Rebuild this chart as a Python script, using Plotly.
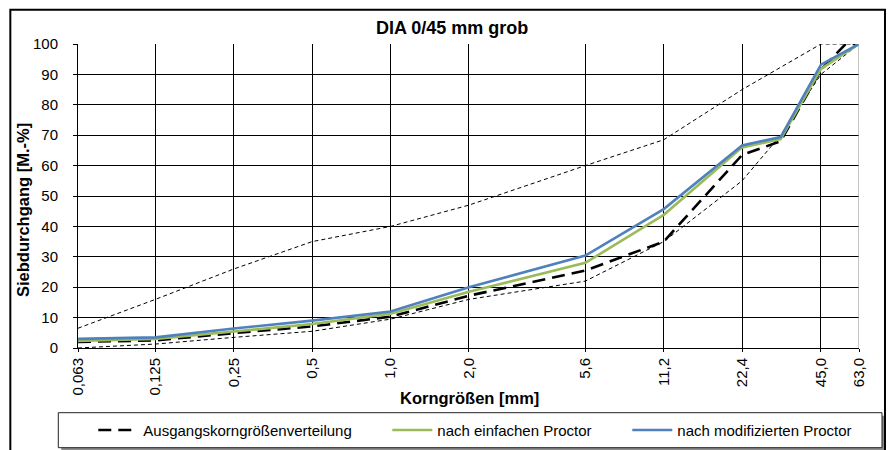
import plotly.graph_objects as go

# Sieve sizes [mm]
sieve = [0.063, 0.125, 0.25, 0.5, 1.0, 2.0, 5.6, 11.2, 22.4, 31.5, 45.0, 56.0, 63.0]
sieve_std = [0.063, 0.125, 0.25, 0.5, 1.0, 2.0, 5.6, 11.2, 22.4, 31.5, 45.0, 63.0]
sieve_upper = [0.063, 0.125, 0.25, 0.5, 1.0, 2.0, 5.6, 11.2, 22.4, 45.0, 63.0]

# Passing [M.-%]
ausgang = [2.0, 2.5, 4.9, 7.1, 10.3, 17.2, 25.5, 35.0, 63.5, 68.0, 91.5, 100.0, 100.0]
einfach = [2.3, 3.0, 5.4, 7.9, 11.3, 18.5, 28.0, 43.8, 66.0, 68.7, 91.8, 100.0]
modifiziert = [3.0, 3.5, 6.4, 9.0, 12.0, 20.0, 30.4, 45.7, 66.6, 69.4, 93.2, 100.0]

# Grading envelope
upper_bound = [6.5, 16.0, 26.0, 35.0, 40.0, 47.0, 60.0, 68.5, 85.0, 100.0, 100.0]
lower_bound = [0.0, 1.3, 3.5, 5.5, 9.5, 16.0, 22.0, 35.0, 55.0, 70.0, 90.0, 100.0]

tick_vals = [0.063, 0.125, 0.25, 0.5, 1.0, 2.0, 5.6, 11.2, 22.4, 45.0, 63.0]
tick_text = ["0,063", "0,125", "0,25", "0,5", "1,0", "2,0", "5,6", "11,2", "22,4", "45,0", "63,0"]

FONT = "Liberation Sans, Arial, sans-serif"
W, H = 896, 450
L, R, T, B = 77.7, 859.0, 44.3, 348.3


def px(x):
    return (x - L) / (R - L)


def py(y):
    return (B - y) / (B - T)


fig = go.Figure()

fig.add_trace(go.Scatter(x=sieve_upper, y=upper_bound, mode="lines", showlegend=False,
                         line=dict(color="black", width=1, dash="4px,3px")))
fig.add_trace(go.Scatter(x=sieve_std, y=lower_bound, mode="lines", showlegend=False,
                         line=dict(color="black", width=1, dash="4px,3px")))
fig.add_trace(go.Scatter(x=sieve, y=ausgang, mode="lines", name="Ausgangskorngrößenverteilung",
                         legendwidth=239,
                         line=dict(color="black", width=2.6, dash="13px,7px")))
fig.add_trace(go.Scatter(x=sieve_std, y=einfach, mode="lines", name="nach einfachen Proctor",
                         legendwidth=185,
                         line=dict(color="#9BBB59", width=2.6)))
fig.add_trace(go.Scatter(x=sieve_std, y=modifiziert, mode="lines", name="nach modifizierten Proctor",
                         line=dict(color="#4F81BD", width=2.6)))

shapes = [
    # outer chart frame
    dict(type="rect", xref="paper", yref="paper",
         x0=px(10), x1=px(885), y0=py(470), y1=py(10),
         line=dict(color="black", width=2), fillcolor="rgba(0,0,0,0)", layer="above"),
    # legend shadow and box
    dict(type="rect", xref="paper", yref="paper",
         x0=px(61), x1=px(886), y0=py(451), y1=py(416),
         line=dict(width=0), fillcolor="#8c8c8c", layer="below"),
    dict(type="rect", xref="paper", yref="paper",
         x0=px(58), x1=px(882), y0=py(448), y1=py(413),
         line=dict(color="#222", width=1), fillcolor="white", layer="below"),
    # right edge of plot area
    dict(type="line", xref="x", yref="paper", x0=63, x1=63, y0=0, y1=1,
         line=dict(color="#a0a0a0", width=1.2), layer="above"),
]

fig.update_layout(
    width=W, height=H,
    margin=dict(l=L, r=W - R, t=T, b=H - B, pad=0, autoexpand=False),
    paper_bgcolor="white", plot_bgcolor="white",
    font=dict(family=FONT, color="black", size=15),
    title=dict(text="DIA 0/45 mm grob", x=px(452), xref="paper", xanchor="center",
               y=1 - 28 / H, yref="container", yanchor="middle",
               font=dict(family=FONT, size=18, weight=700, color="black")),
    xaxis=dict(type="log", range=[-1.20066, 1.79934], tickvals=tick_vals, ticktext=tick_text,
               tickangle=-90, showgrid=True, gridcolor="black", gridwidth=1,
               showline=True, linecolor="black", linewidth=1,
               ticks="outside", ticklen=3, tickcolor="black",
               tickfont=dict(family=FONT, size=15), zeroline=False),
    yaxis=dict(range=[0, 100], dtick=10, showgrid=True, gridcolor="black", gridwidth=1,
               showline=True, linecolor="black", linewidth=1,
               ticks="outside", ticklen=4, tickcolor="black", ticklabelstandoff=12,
               tickfont=dict(family=FONT, size=15), zeroline=False),
    legend=dict(orientation="h", x=px(93), xanchor="left", y=py(430.5), yanchor="middle",
                bgcolor="rgba(0,0,0,0)", borderwidth=0, font=dict(family=FONT, size=15),
                itemwidth=40, tracegroupgap=0),
    shapes=shapes,
    annotations=[
        dict(text="Siebdurchgang [M.-%]", xref="paper", yref="paper", x=px(22), y=py(210),
             textangle=-90, showarrow=False, xanchor="center", yanchor="middle",
             font=dict(family=FONT, size=16.5, weight=700)),
        dict(text="Korngrößen [mm]", xref="paper", yref="paper", x=px(469), y=py(398),
             showarrow=False, xanchor="center", yanchor="middle",
             font=dict(family=FONT, size=16.5, weight=700)),
    ],
)

fig.write_html("out.html")
